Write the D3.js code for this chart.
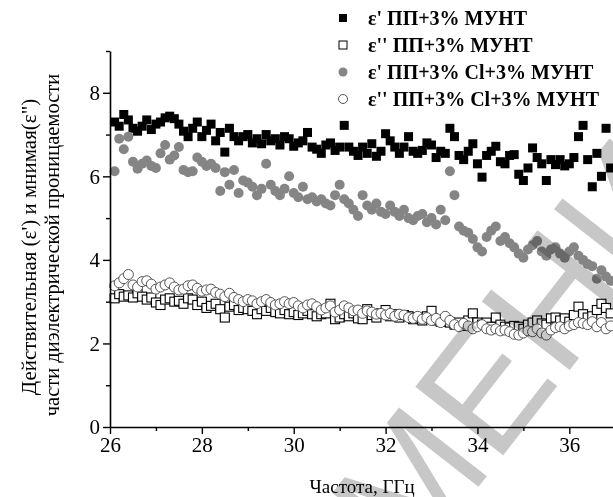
<!DOCTYPE html>
<html><head><meta charset="utf-8">
<script src="https://cdn.jsdelivr.net/npm/d3@7"></script>
<style>body{margin:0;background:#fff}svg{display:block}</style>
</head><body><svg id="c" width="613" height="497"></svg>
<script>
const freq = [26.1,26.2,26.3,26.4,26.5,26.6,26.7,26.8,26.9,27.0,27.1,27.2,27.3,27.4,27.5,27.6,27.7,27.8,27.9,28.0,28.1,28.2,28.3,28.4,28.5,28.6,28.7,28.8,28.9,29.0,29.1,29.2,29.3,29.4,29.5,29.6,29.7,29.8,29.9,30.0,30.1,30.2,30.3,30.4,30.5,30.6,30.7,30.8,30.9,31.0,31.1,31.2,31.3,31.4,31.5,31.6,31.7,31.8,31.9,32.0,32.1,32.2,32.3,32.4,32.5,32.6,32.7,32.8,32.9,33.0,33.1,33.2,33.3,33.4,33.5,33.6,33.7,33.8,33.9,34.0,34.1,34.2,34.3,34.4,34.5,34.6,34.7,34.8,34.9,35.0,35.1,35.2,35.3,35.4,35.5,35.6,35.7,35.8,35.9,36.0,36.1,36.2,36.3,36.4,36.5,36.6,36.7,36.8,36.9];
const epsReal_PP = [7.30,7.20,7.48,7.35,7.15,7.08,7.20,7.35,7.12,7.25,7.30,7.40,7.44,7.38,7.25,7.08,6.95,7.15,7.30,6.95,7.10,7.25,6.85,7.05,6.58,7.15,6.95,6.85,6.95,7.00,6.80,6.90,6.78,7.00,6.85,6.90,6.75,6.95,6.90,6.72,6.80,6.85,7.05,6.70,6.65,6.55,6.75,6.80,6.62,6.70,7.22,6.70,6.60,6.50,6.70,6.55,6.78,6.48,6.60,7.02,6.85,6.70,6.55,6.70,6.95,6.60,6.55,6.62,6.80,6.75,6.45,6.60,6.55,7.15,6.95,6.50,6.40,6.60,6.78,6.30,5.98,6.50,6.60,6.72,6.35,6.30,6.50,6.52,6.05,5.90,6.20,6.68,6.45,6.30,5.90,6.40,6.28,6.40,6.25,6.30,6.45,6.95,7.22,6.40,5.75,6.55,6.00,7.15,6.20];
const epsImag_PP = [3.08,3.18,3.12,3.15,3.10,3.20,3.12,3.05,3.10,2.98,2.92,3.05,3.08,3.00,3.02,2.95,3.08,3.05,2.92,3.00,2.85,2.90,2.95,2.82,2.62,2.88,2.92,2.80,2.85,2.82,2.78,2.70,2.82,2.78,2.85,2.75,2.72,2.80,2.70,2.75,2.68,2.72,2.78,2.70,2.65,2.70,2.72,2.95,2.58,2.62,2.70,2.65,2.72,2.60,2.58,2.82,2.68,2.62,2.72,2.80,2.65,2.70,2.62,2.68,2.65,2.58,2.62,2.55,2.65,2.78,2.55,2.52,2.58,2.50,2.45,2.50,2.42,2.55,2.72,2.50,2.45,2.50,2.40,2.62,2.45,2.40,2.38,2.42,2.40,2.35,2.45,2.50,2.55,2.48,2.45,2.60,2.62,2.55,2.60,2.52,2.68,2.88,2.70,2.62,2.65,2.80,2.95,2.85,2.72];
const epsReal_Cl = [6.12,6.90,6.65,6.95,6.35,6.18,6.30,6.38,6.25,6.20,6.55,6.75,6.40,6.50,6.70,6.15,6.10,6.12,6.45,6.35,6.25,6.30,6.20,5.65,6.10,5.80,6.15,5.60,5.90,5.85,5.75,5.55,5.70,6.30,5.80,5.65,5.55,5.70,6.00,5.60,5.50,5.75,5.45,5.50,5.40,5.45,5.35,5.30,5.55,5.80,5.45,5.35,5.20,5.05,5.55,5.30,5.20,5.35,5.15,5.10,5.30,5.15,5.05,5.20,5.00,4.95,5.05,5.10,4.90,5.00,4.85,5.20,4.95,6.12,5.55,4.80,4.70,4.65,4.50,4.30,4.20,4.55,4.70,4.80,4.45,4.55,4.40,4.30,4.15,4.05,4.25,4.35,4.45,4.20,4.10,4.25,4.30,4.15,4.05,4.20,4.30,4.10,4.00,3.90,3.85,3.55,3.75,3.60,3.50];
const epsImag_Cl = [3.38,3.45,3.55,3.65,3.40,3.35,3.48,3.50,3.42,3.30,3.35,3.40,3.45,3.35,3.28,3.30,3.38,3.40,3.32,3.25,3.28,3.30,3.22,3.18,3.12,3.20,3.10,3.05,3.00,3.05,3.02,2.95,3.00,3.05,2.98,2.92,2.95,3.00,2.95,2.98,2.90,2.85,2.92,2.95,2.88,2.80,2.85,2.90,2.75,2.80,2.90,2.85,2.78,2.80,2.72,2.78,2.75,2.70,2.72,2.68,2.72,2.65,2.70,2.68,2.62,2.60,2.65,2.58,2.62,2.55,2.60,2.50,2.65,2.55,2.45,2.40,2.48,2.42,2.35,2.40,2.45,2.35,2.32,2.35,2.30,2.32,2.28,2.22,2.20,2.25,2.30,2.28,2.35,2.25,2.20,2.32,2.38,2.40,2.35,2.42,2.45,2.50,2.48,2.45,2.52,2.40,2.50,2.35,2.42];
const seriesNames = ["ε' ПП+3% МУНТ", "ε'' ПП+3% МУНТ", "ε' ПП+3% Cl+3% МУНТ", "ε'' ПП+3% Cl+3% МУНТ"];
const xMajor = [26,28,30,32,34,36];
const xMinor = [27,29,31,33,35,37];
const yMajor = [0,2,4,6,8];
const yMinor = [1,3,5,7,9];
const xTitle = "Частота, ГГц";
const yTitle1 = "Действительная (ε') и мнимая(ε\")";
const yTitle2 = "части диэлектрической проницаемости";
const watermark = "МЕНИ";

const svg = d3.select("#c");
const serif = "'Liberation Serif','Times New Roman',serif";
const x = d3.scaleLinear().domain([26, 38]).range([110, 110 + 12 * 45.93]);
const y = d3.scaleLinear().domain([0, 9]).range([427, 51]);

const series = [
  {vals: epsReal_PP, shape: "sq", fill: "#000", stroke: "none"},
  {vals: epsImag_PP, shape: "sq", fill: "#fff", stroke: "#000"},
  {vals: epsReal_Cl, shape: "ci", fill: "#858585", stroke: "none"},
  {vals: epsImag_Cl, shape: "ci", fill: "#fff", stroke: "#555"}
];

const plot = svg.append("g");
series.forEach(s => {
  const data = freq.map((f, i) => ({f, v: s.vals[i]}));
  if (s.shape === "sq") {
    plot.append("g").selectAll("rect").data(data).join("rect")
      .attr("x", d => x(d.f) - 4.5).attr("y", d => y(d.v) - 4.5)
      .attr("width", 9).attr("height", 9)
      .attr("fill", s.fill).attr("stroke", s.stroke).attr("stroke-width", 1.1);
  } else {
    plot.append("g").selectAll("circle").data(data).join("circle")
      .attr("cx", d => x(d.f)).attr("cy", d => y(d.v)).attr("r", 5)
      .attr("fill", s.fill).attr("stroke", s.stroke).attr("stroke-width", 1);
  }
});

// watermark (partly outside the picture, as in the original)
svg.append("text").text(watermark)
  .attr("transform", "translate(412,572) rotate(-52)")
  .attr("font-family", "'Liberation Sans',Arial,sans-serif")
  .attr("font-size", 162).attr("fill", "#bdbdbd").attr("fill-opacity", 0.85)
  .style("mix-blend-mode", "multiply");

// axes
function styleAxis(g) {
  g.selectAll("path.domain").attr("stroke", "#000").attr("stroke-width", 1.6);
  g.selectAll(".tick line").attr("stroke", "#000").attr("stroke-width", 1.4);
  g.selectAll(".tick text").attr("font-family", serif).attr("font-size", 21).attr("fill", "#000");
}
const gx = svg.append("g").attr("transform", `translate(0,${y(0)})`)
  .call(d3.axisBottom(x).tickValues(xMajor).tickSize(7).tickSizeOuter(0).tickPadding(3).tickFormat(d3.format("d")));
styleAxis(gx);
const gxm = svg.append("g").attr("transform", `translate(0,${y(0)})`)
  .call(d3.axisBottom(x).tickValues(xMinor).tickSize(4).tickSizeOuter(0).tickFormat(""));
styleAxis(gxm); gxm.select("path.domain").remove();

const gy = svg.append("g").attr("transform", `translate(${x(26)},0)`)
  .call(d3.axisLeft(y).tickValues(yMajor).tickSize(7).tickSizeOuter(0).tickPadding(3).tickFormat(d3.format("d")));
styleAxis(gy);
const gym = svg.append("g").attr("transform", `translate(${x(26)},0)`)
  .call(d3.axisLeft(y).tickValues(yMinor).tickSize(4).tickSizeOuter(0).tickFormat(""));
styleAxis(gym); gym.select("path.domain").remove();

// titles
svg.append("text").text(xTitle).attr("x", 362).attr("y", 493).attr("text-anchor", "middle")
  .attr("font-family", serif).attr("font-size", 19);
svg.append("text").text(yTitle1).attr("transform", "translate(36,247) rotate(-90)").attr("text-anchor", "middle")
  .attr("font-family", serif).attr("font-size", 21);
svg.append("text").text(yTitle2).attr("transform", "translate(59,245) rotate(-90)").attr("text-anchor", "middle")
  .attr("font-family", serif).attr("font-size", 20.5);

// legend
const leg = svg.append("g");
series.forEach((s, i) => {
  const cy = 18 + i * 27;
  if (s.shape === "sq") {
    leg.append("rect").attr("x", 343 - 4).attr("y", cy - 4).attr("width", 8).attr("height", 8)
      .attr("fill", s.fill).attr("stroke", s.stroke).attr("stroke-width", 1);
  } else {
    leg.append("circle").attr("cx", 343).attr("cy", cy).attr("r", 4.5)
      .attr("fill", s.fill).attr("stroke", s.stroke).attr("stroke-width", 1);
  }
  leg.append("text").text(seriesNames[i]).attr("x", 368).attr("y", cy + 7)
    .attr("font-family", serif).attr("font-weight", "bold").attr("font-size", 20);
});
</script></body></html>
